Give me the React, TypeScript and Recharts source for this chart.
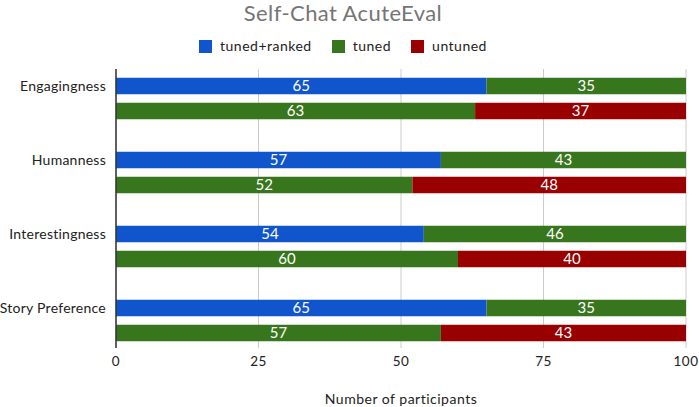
import React from 'react';
import { BarChart, Bar, XAxis, YAxis, CartesianGrid, LabelList } from 'recharts';

const categories = ['Engagingness', 'Humanness', 'Interestingness', 'Story Preference'];
// first bar of each pair: tuned+ranked vs tuned
const tunedRanked = [65, 57, 54, 65];
const tunedVsRanked = [35, 43, 46, 35];
// second bar of each pair: tuned vs untuned
const tunedVsUntuned = [63, 52, 60, 57];
const untuned = [37, 48, 40, 43];
const xTicks = [0, 25, 50, 75, 100];

const legendItems = [
  { name: 'tuned+ranked', color: '#1155cc' },
  { name: 'tuned', color: '#38761d' },
  { name: 'untuned', color: '#990000' },
];

const data = categories.map((name, i) => ({
  name,
  tunedRanked: tunedRanked[i],
  tunedA: tunedVsRanked[i],
  tunedB: tunedVsUntuned[i],
  untuned: untuned[i],
}));

const FONT = 'Lato, "Open Sans", sans-serif';

const CategoryTick = (props: any) => {
  const { x, y, payload } = props;
  return (
    <text x={x - 2} y={y - 13.5} textAnchor="end" dominantBaseline="central" fontSize={14} fill="#222" fontFamily={FONT} letterSpacing={0.25}>
      {payload.value}
    </text>
  );
};

const labelStyle = { fill: '#fff', fontSize: 15, fontFamily: FONT };

export default function App() {
  return (
    <div style={{ position: 'absolute', left: 0, top: 0, width: 699, height: 407, fontFamily: FONT }}>
      <div style={{ position: 'absolute', left: 0, width: 686, top: 1, textAlign: 'center', fontSize: 22, letterSpacing: 0.4, color: '#757575', lineHeight: '24px' }}>
        Self-Chat AcuteEval
      </div>
      <div style={{ position: 'absolute', left: 0, width: 686, top: 37, display: 'flex', justifyContent: 'center', fontSize: 14, letterSpacing: 0.5, color: '#222', lineHeight: '18px' }}>
        {legendItems.map((it) => (
          <div key={it.name} style={{ display: 'flex', alignItems: 'center', margin: '0 10px' }}>
            <span style={{ width: 13, height: 13, background: it.color, display: 'inline-block', marginRight: 8 }} />
            <span>{it.name}</span>
          </div>
        ))}
      </div>
      <BarChart
        width={699}
        height={407}
        data={data}
        layout="vertical"
        margin={{ top: 69, right: 13, bottom: 3, left: 0 }}
        barSize={16.5}
        barGap={8.5}
      >
        <CartesianGrid horizontal={false} stroke="#cccccc" />
        <XAxis
          type="number"
          domain={[0, 100]}
          ticks={xTicks}
          axisLine={false}
          tickLine={false}
          height={56}
          tick={{ fontSize: 13.5, fill: '#222', fontFamily: FONT, letterSpacing: 0.5 }}
          label={{ value: 'Number of participants', position: 'insideBottom', offset: 0, fontSize: 14, fill: '#222', fontFamily: FONT, letterSpacing: 0.5 }}
        />
        <YAxis
          type="category"
          dataKey="name"
          width={116}
          tickLine={false}
          axisLine={{ stroke: '#333', strokeWidth: 1.5 }}
          tick={<CategoryTick />}
          padding={{ top: -7.25, bottom: -9.75 }}
        />
        <Bar dataKey="tunedRanked" name="tuned+ranked" stackId="a" fill="#1155cc" isAnimationActive={false}>
          <LabelList dataKey="tunedRanked" position="center" style={labelStyle} />
        </Bar>
        <Bar dataKey="tunedA" name="tuned" stackId="a" fill="#38761d" isAnimationActive={false}>
          <LabelList dataKey="tunedA" position="center" style={labelStyle} />
        </Bar>
        <Bar dataKey="tunedB" name="tuned" stackId="b" fill="#38761d" isAnimationActive={false}>
          <LabelList dataKey="tunedB" position="center" style={labelStyle} />
        </Bar>
        <Bar dataKey="untuned" name="untuned" stackId="b" fill="#990000" isAnimationActive={false}>
          <LabelList dataKey="untuned" position="center" style={labelStyle} />
        </Bar>
      </BarChart>
    </div>
  );
}
